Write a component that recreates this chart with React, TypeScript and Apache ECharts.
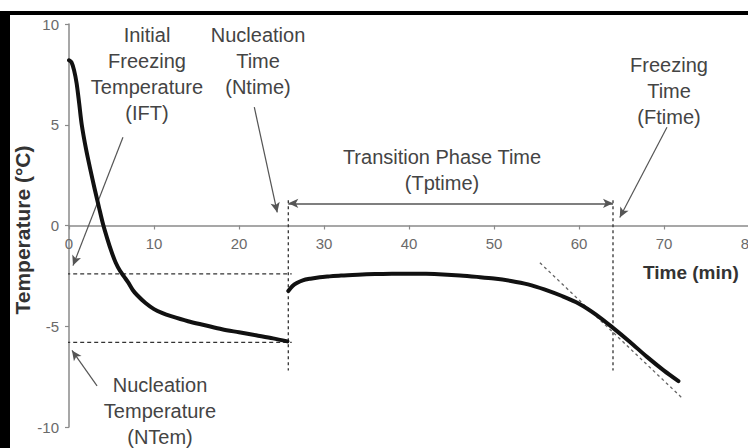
import React, { useEffect, useRef } from "react";
import * as echarts from "echarts";

// ---- data ----
const coolTime = [0, 0.3, 0.6, 0.9, 1.2, 1.5, 2, 2.5, 3, 3.5, 4, 4.5, 5, 5.5, 6, 6.5, 7, 7.5, 8, 9, 10, 11, 12, 14, 16, 18, 20, 22, 24, 25.7];
const coolTemp = [8.2, 8.1, 7.7, 7.05, 6.05, 5.0, 3.8, 2.8, 1.85, 0.95, 0.07, -0.65, -1.3, -1.85, -2.25, -2.55, -2.85, -3.2, -3.45, -3.85, -4.15, -4.35, -4.5, -4.75, -4.95, -5.15, -5.3, -5.45, -5.6, -5.75];

const phaseTime = [25.8, 26.3, 26.8, 27.5, 28.4, 29.5, 30.5, 32, 34, 36, 38, 40, 42, 44, 46, 48, 50, 52, 54, 56, 58, 60, 62, 64, 66, 68, 70, 71.7];
const phaseTemp = [-3.25, -3.0, -2.85, -2.72, -2.64, -2.57, -2.53, -2.48, -2.44, -2.41, -2.39, -2.39, -2.4, -2.43, -2.48, -2.55, -2.63, -2.75, -2.92, -3.18, -3.5, -3.88, -4.42, -5.08, -5.78, -6.52, -7.2, -7.72];

const tangentTime = [55.4, 72.1];
const tangentTemp = [-1.85, -8.55];

const iftLevel = -2.4;
const ntemLevel = -5.8;
const refLineTime = [-2.8, 26.2];

const nucleationTime = 25.8;
const freezingTime = 64;
const markerTemp = [1.25, -7.2];
const spanLevel = 1.1;

const arrowFrom = [[6.35, 4.38], [21.8, 5.87], [70.35, 4.88], [3.3, -7.96]];
const arrowTo = [[0.47, -1.99], [24.5, 0.65], [64.8, 0.4], [0.35, -6.2]];

const FONT = "'Liberation Sans', Arial, sans-serif";

const annotations: { lines: string[]; x: number; y: number }[] = [
  { lines: ["Initial", "Freezing", "Temperature", "(IFT)"], x: 147, y: 35 },
  { lines: ["Nucleation", "Time", "(Ntime)"], x: 258, y: 35 },
  { lines: ["Transition Phase Time", "(Tptime)"], x: 442, y: 157 },
  { lines: ["Freezing", "Time", "(Ftime)"], x: 669, y: 65 },
  { lines: ["Nucleation", "Temperature", "(NTem)"], x: 160, y: 385 },
];

export default function App() {
  const ref = useRef<HTMLDivElement>(null);
  useEffect(() => {
    if (!ref.current) return;
    const chart = echarts.init(ref.current, undefined, { renderer: "svg" });

    const gridTop = 24;
    const gridHeight = 403;
    const yMin = -10;
    const yMax = 10;
    const zeroY = gridTop + gridHeight * (yMax / (yMax - yMin));
    const xOffset = -(gridTop + gridHeight - zeroY);

    const texts: any[] = [];
    annotations.forEach((a) => {
      a.lines.forEach((ln, i) => {
        texts.push({
          type: "text",
          x: a.x,
          y: a.y + i * 26,
          style: {
            text: ln,
            textAlign: "center",
            textVerticalAlign: "middle",
            font: `20px ${FONT}`,
            fill: "#444",
          },
          z: 10,
        });
      });
    });

    const option: any = {
      animation: false,
      backgroundColor: "#fff",
      grid: { left: 69, top: gridTop, width: 680, height: gridHeight, containLabel: false },
      xAxis: {
        type: "value",
        min: 0,
        max: 80,
        interval: 10,
        position: "bottom",
        offset: xOffset,
        axisLine: { onZero: false, lineStyle: { color: "#8a8a8a", width: 1.5 } },
        axisTick: { show: true, length: 4, lineStyle: { color: "#8a8a8a", width: 1.2 } },
        axisLabel: { color: "#6a6a6a", fontSize: 15, margin: 10, fontFamily: FONT },
        splitLine: { show: false },
      },
      yAxis: {
        type: "value",
        min: yMin,
        max: yMax,
        interval: 5,
        axisLine: { show: true, onZero: false, lineStyle: { color: "#8a8a8a", width: 1.5 } },
        axisTick: { show: true, length: 4, lineStyle: { color: "#8a8a8a", width: 1.2 } },
        axisLabel: { color: "#6a6a6a", fontSize: 15, margin: 10, fontFamily: FONT },
        splitLine: { show: false },
      },
      series: [
        {
          type: "line",
          data: refLineTime.map((t) => [t, iftLevel]),
          symbol: "none",
          clip: false,
          lineStyle: { color: "#333", width: 1.3, type: [4, 3] },
        },
        {
          type: "line",
          data: refLineTime.map((t) => [t, ntemLevel]),
          symbol: "none",
          clip: false,
          lineStyle: { color: "#333", width: 1.3, type: [4, 3] },
        },
        {
          type: "line",
          data: markerTemp.map((v) => [nucleationTime, v]),
          symbol: "none",
          clip: false,
          lineStyle: { color: "#333", width: 1.3, type: [3, 3] },
        },
        {
          type: "line",
          data: markerTemp.map((v) => [freezingTime, v]),
          symbol: "none",
          clip: false,
          lineStyle: { color: "#333", width: 1.3, type: [3, 3] },
        },
        {
          type: "line",
          data: tangentTime.map((t, i) => [t, tangentTemp[i]]),
          symbol: "none",
          clip: false,
          lineStyle: { color: "#666", width: 1.3, type: [3, 3] },
        },
        {
          type: "line",
          data: coolTime.map((t, i) => [t, coolTemp[i]]),
          symbol: "none",
          smooth: 0.3,
          lineStyle: { color: "#111", width: 4, join: "round", cap: "round" },
          z: 5,
        },
        {
          type: "line",
          data: phaseTime.map((t, i) => [t, phaseTemp[i]]),
          symbol: "none",
          smooth: 0.3,
          lineStyle: { color: "#111", width: 4, join: "round", cap: "round" },
          z: 5,
        },
        {
          type: "line",
          data: [],
          clip: false,
          markLine: {
            silent: true,
            symbol: ["none", "arrow"],
            symbolSize: [7, 10],
            label: { show: false },
            lineStyle: { type: "solid", color: "#555", width: 1.2 },
            data: arrowFrom.map((f, i) => [{ coord: f }, { coord: arrowTo[i] }]),
          },
        },
        {
          type: "line",
          data: [],
          clip: false,
          markLine: {
            silent: true,
            symbol: ["arrow", "arrow"],
            symbolSize: [7, 10],
            label: { show: false },
            lineStyle: { type: "solid", color: "#555", width: 1.5 },
            data: [[{ coord: [nucleationTime, spanLevel] }, { coord: [freezingTime, spanLevel] }]],
          },
        },
      ],
      graphic: [
        { type: "rect", shape: { x: 0, y: 11, width: 780, height: 4 }, style: { fill: "#000" }, z: 20 },
        { type: "rect", shape: { x: 0, y: 11, width: 10, height: 437 }, style: { fill: "#000" }, z: 20 },
        ...texts,
        {
          type: "text",
          x: 643,
          y: 272,
          style: {
            text: "Time (min)",
            textAlign: "left",
            textVerticalAlign: "middle",
            font: `bold 19px ${FONT}`,
            fill: "#333",
          },
          z: 10,
        },
        {
          type: "text",
          x: 22,
          y: 230,
          rotation: Math.PI / 2,
          style: {
            text: "Temperature (°C)",
            textAlign: "center",
            textVerticalAlign: "middle",
            font: `bold 21px ${FONT}`,
            fill: "#333",
          },
          z: 10,
        },
      ],
    };
    chart.setOption(option);
    return () => chart.dispose();
  }, []);
  return (
    <div
      ref={ref}
      style={{ position: "fixed", left: 0, top: 0, width: 780, height: 448, background: "#fff" }}
    />
  );
}
